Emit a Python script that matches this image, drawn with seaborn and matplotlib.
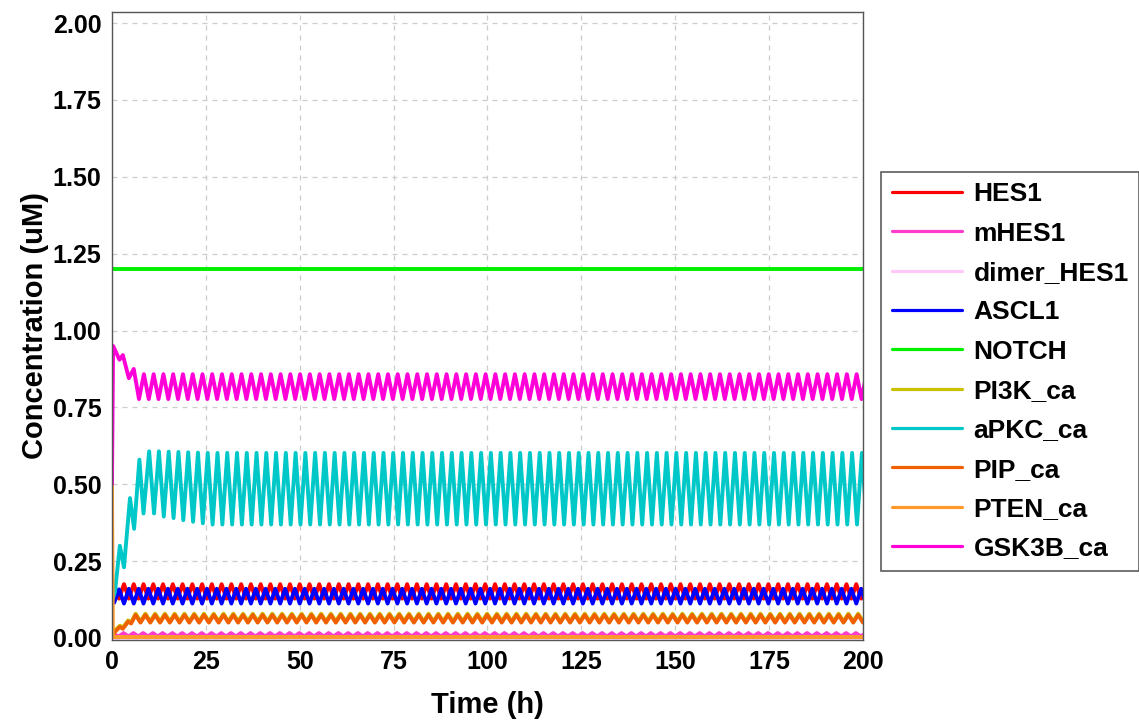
import numpy as np
import pandas as pd
import matplotlib
matplotlib.use("Agg")
import matplotlib.pyplot as plt
import seaborn as sns

sns.set_style("white")
plt.rcParams["font.family"] = ["Liberation Sans", "DejaVu Sans"]
plt.rcParams["text.color"] = "black"
plt.rcParams["axes.labelcolor"] = "black"
plt.rcParams["xtick.color"] = "black"
plt.rcParams["ytick.color"] = "black"

# half of the oscillation period (h), read from the peak spacing
HALF_PERIOD = 1.3
T_END = 200.0

species = ["HES1", "mHES1", "dimer_HES1", "ASCL1", "NOTCH",
           "PI3K_ca", "aPKC_ca", "PIP_ca", "PTEN_ca", "GSK3B_ca"]
colors = ["#ff0000", "#ff3ccc", "#ffc8f8", "#0000ff", "#00f000",
          "#c8c000", "#00c8c8", "#f06000", "#ff9a2a", "#ff00d8"]

# transient part: (time, value) read off the curves, then the
# steady oscillation given as alternating extrema (next, after)
hes1_t = [0, 0.6, 1.9]
hes1_v = [0.132, 0.172, 0.128]
hes1_steady = (0.175, 0.128)

mhes1_t = [0, 0.5]
mhes1_v = [0.0, 0.012]
mhes1_steady = (0.005, 0.016)

dimer_t = [0, 0.4]
dimer_v = [0.0, 0.0015]
dimer_steady = (0.0006, 0.0016)

ascl1_t = [0, 0.6, 1.9]
ascl1_v = [0.128, 0.115, 0.158]
ascl1_steady = (0.112, 0.160)

notch_t = [0, 200]
notch_v = [1.2, 1.2]

pi3k_t = [0, 0.8, 2.1, 2.9, 4.3, 5.1, 6.3]
pi3k_v = [0.008, 0.024, 0.040, 0.034, 0.057, 0.051, 0.079]
pi3k_steady = (0.054, 0.079)

apkc_t = [0, 0.8, 2.1, 3.2, 4.8, 5.9, 7.3, 8.4, 9.9, 11.2, 12.5, 13.8,
          15.1, 16.4, 17.7, 19.0, 20.3, 21.6, 22.9, 24.2]
apkc_v = [0.12, 0.15, 0.30, 0.23, 0.455, 0.355, 0.58, 0.405, 0.607, 0.405,
          0.607, 0.395, 0.606, 0.39, 0.605, 0.383, 0.604, 0.378, 0.603, 0.373]
apkc_steady = (0.602, 0.369)

pip_t = [0, 0.8, 2.1, 2.9, 4.3, 5.1, 6.3]
pip_v = [0.005, 0.020, 0.036, 0.030, 0.053, 0.047, 0.075]
pip_steady = (0.050, 0.075)

pten_t = [0, 0.25, 200]
pten_v = [0.50, 0.003, 0.003]

gsk3b_t = [0, 0.3, 2.0, 2.9, 4.5, 5.8, 7.2]
gsk3b_v = [0.50, 0.95, 0.905, 0.92, 0.845, 0.875, 0.777]
gsk3b_steady = (0.858, 0.777)


def with_steady(times, vals, steady=None):
    times, vals = list(times), list(vals)
    if steady is None:
        return times, vals
    k = 0
    t = times[-1] + HALF_PERIOD
    while t <= T_END + HALF_PERIOD:
        times.append(t)
        vals.append(steady[k % 2])
        k += 1
        t += HALF_PERIOD
    return times, vals


series = {
    "HES1": with_steady(hes1_t, hes1_v, hes1_steady),
    "mHES1": with_steady(mhes1_t, mhes1_v, mhes1_steady),
    "dimer_HES1": with_steady(dimer_t, dimer_v, dimer_steady),
    "ASCL1": with_steady(ascl1_t, ascl1_v, ascl1_steady),
    "NOTCH": with_steady(notch_t, notch_v),
    "PI3K_ca": with_steady(pi3k_t, pi3k_v, pi3k_steady),
    "aPKC_ca": with_steady(apkc_t, apkc_v, apkc_steady),
    "PIP_ca": with_steady(pip_t, pip_v, pip_steady),
    "PTEN_ca": with_steady(pten_t, pten_v),
    "GSK3B_ca": with_steady(gsk3b_t, gsk3b_v, gsk3b_steady),
}

frames = []
for name in species:
    t, v = series[name]
    frames.append(pd.DataFrame({"time": t, "conc": v, "species": name}))
df = pd.concat(frames, ignore_index=True)

fig = plt.figure(figsize=(11.39, 7.22), dpi=100)
ax = fig.add_axes([0.0983, 0.1136, 0.6594, 0.8698])

sns.lineplot(
    data=df, x="time", y="conc", hue="species", hue_order=species,
    palette=dict(zip(species, colors)), estimator=None, sort=False,
    linewidth=2.8, ax=ax,
)

ax.set_xlim(0, 200)
ax.set_ylim(-0.0065, 2.036)
ax.set_xticks(np.arange(0, 201, 25))
ax.set_yticks(np.arange(0, 2.01, 0.25))
ax.set_yticklabels([f"{y:.2f}" for y in np.arange(0, 2.01, 0.25)])
ax.grid(True, color="#cccccc", linestyle=(0, (4, 4)), linewidth=0.9)

for spine in ax.spines.values():
    spine.set_visible(True)
    spine.set_color("#555555")
    spine.set_linewidth(1.0)

ax.tick_params(axis="both", direction="out", length=4, width=1,
               color="#555555", labelcolor="black", labelsize=18)
for lab in ax.get_xticklabels() + ax.get_yticklabels():
    lab.set_fontweight("bold")

ax.set_xlabel("Time (h)", fontsize=21, fontweight="bold", labelpad=12,
              color="black")
ax.set_ylabel("Concentration (uM)", fontsize=21, fontweight="bold",
              labelpad=3, color="black")

handles, labels = ax.get_legend_handles_labels()
ax.get_legend().remove()
for h in handles:
    h.set_linewidth(2.3)
leg = fig.legend(
    handles, labels, loc="upper left", bbox_to_anchor=(0.7735, 0.762),
    bbox_transform=fig.transFigure, frameon=True, fancybox=False,
    edgecolor="#333333", handlelength=2.65, handletextpad=0.45,
    labelspacing=0.58, borderpad=0.4, borderaxespad=0,
    labelcolor="black",
    prop={"family": "Liberation Sans", "weight": "bold", "size": 19},
)
leg.get_frame().set_linewidth(1.2)

fig.savefig("out.png", dpi=100)
